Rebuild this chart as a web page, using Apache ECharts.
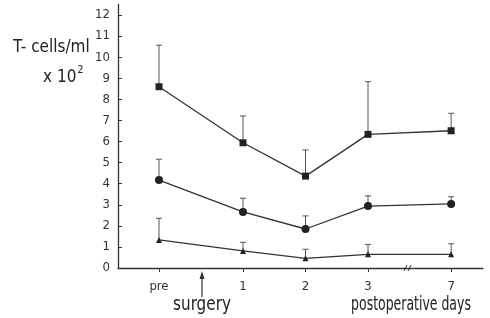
<!DOCTYPE html>
<html>
<head>
<meta charset="utf-8">
<script src="https://cdn.jsdelivr.net/npm/echarts@6/dist/echarts.min.js"></script>
<style>
  html, body { margin: 0; padding: 0; background: #fff; }
  #chart { width: 490px; height: 318px; }
</style>
</head>
<body>
<div id="chart"></div>
<script>
// posizioni sull'asse x (asse interrotto tra 3 e 7)
const xPos = [-0.344, 1, 2, 3, 4.33];
const xLabels = ['pre', '1', '2', '3', '7'];
const yTicks = [0, 1, 2, 3, 4, 5, 6, 7, 8, 9, 10, 11, 12];
const surgeryX = 0.344;
const breakX = 3.64;

// valori medi e limite superiore della barra d'errore
const squareMean = [8.6, 5.94, 4.36, 6.34, 6.51];
const squareUpper = [10.57, 7.21, 5.6, 8.84, 7.34];
const circleMean = [4.17, 2.66, 1.85, 2.94, 3.04];
const circleUpper = [5.16, 3.31, 2.47, 3.42, 3.38];
const triMean = [1.33, 0.81, 0.46, 0.65, 0.65];
const triUpper = [2.36, 1.22, 0.89, 1.12, 1.15];

const FONT = '"DejaVu Sans"';
const INK = '#333';

const pairs = vals => vals.map((v, i) => [xPos[i], v]);

function lineSeries(vals, symbol, size) {
  return {
    type: 'line',
    data: pairs(vals),
    symbol,
    symbolSize: size,
    showAllSymbol: true,
    lineStyle: { color: INK, width: 1.3 },
    itemStyle: { color: '#222' },
    z: 3
  };
}

function errorSeries(means, uppers) {
  return {
    type: 'custom',
    data: means.map((m, i) => [xPos[i], m, uppers[i]]),
    renderItem: (params, api) => {
      const base = api.coord([api.value(0), api.value(1)]);
      const top = api.coord([api.value(0), api.value(2)]);
      const style = { stroke: '#555', lineWidth: 1 };
      return {
        type: 'group',
        children: [
          { type: 'line', shape: { x1: base[0], y1: base[1], x2: top[0], y2: top[1] }, style },
          { type: 'line', shape: { x1: top[0] - 3, y1: top[1], x2: top[0] + 3, y2: top[1] }, style }
        ]
      };
    },
    z: 2
  };
}

// "condensed" finisce nella stringa font del canvas
const labelStyle = {
  color: '#333',
  fontFamily: FONT,
  fontWeight: 'condensed',
  fontSize: 13
};

const chart = echarts.init(document.getElementById('chart'));
chart.setOption({
  animation: false,
  grid: { left: 118, right: 7, top: 4.5, bottom: 50 },
  xAxis: {
    type: 'value',
    min: -1,
    max: 4.84,
    axisLine: { onZero: false, lineStyle: { color: INK, width: 1.3 } },
    axisTick: { customValues: xPos, length: 4, lineStyle: { color: INK } },
    axisLabel: {
      ...labelStyle,
      customValues: xPos,
      formatter: v => xLabels[xPos.indexOf(v)],
      margin: 12
    },
    splitLine: { show: false }
  },
  yAxis: {
    type: 'value',
    min: 0,
    max: 12.5,
    axisLine: { show: true, onZero: false, lineStyle: { color: INK, width: 1.3 } },
    axisTick: { show: true, inside: true, customValues: yTicks, length: 4, lineStyle: { color: INK } },
    axisLabel: { ...labelStyle, customValues: yTicks, margin: 8 },
    splitLine: { show: false }
  },
  series: [
    errorSeries(squareMean, squareUpper),
    errorSeries(circleMean, circleUpper),
    errorSeries(triMean, triUpper),
    lineSeries(squareMean, 'rect', 7),
    lineSeries(circleMean, 'circle', 8),
    lineSeries(triMean, 'triangle', 6)
  ]
});

// decorazioni: freccia dell'intervento, segno di interruzione, testi
const sx = chart.convertToPixel({ xAxisIndex: 0 }, surgeryX);
const bx = chart.convertToPixel({ xAxisIndex: 0 }, breakX);
const y0 = chart.convertToPixel({ yAxisIndex: 0 }, 0);
const big = 'condensed 19px ' + FONT;

chart.setOption({
  graphic: [
    { type: 'line', shape: { x1: sx, y1: y0 + 29, x2: sx, y2: y0 + 6 }, style: { stroke: INK, lineWidth: 1.2 } },
    { type: 'polygon', shape: { points: [[sx, y0 + 3], [sx - 2.5, y0 + 11], [sx + 2.5, y0 + 11]] }, style: { fill: INK } },
    { type: 'line', shape: { x1: bx - 4, y1: y0 + 3, x2: bx - 1, y2: y0 - 3 }, style: { stroke: INK, lineWidth: 1 } },
    { type: 'line', shape: { x1: bx, y1: y0 + 3, x2: bx + 3, y2: y0 - 3 }, style: { stroke: INK, lineWidth: 1 } },
    {
      type: 'text', left: 13, top: 39,
      style: { text: 'T- cells/ml', font: 'condensed 17px ' + FONT, fill: '#222' }
    },
    {
      type: 'text', left: 43, top: 65,
      style: {
        text: '{a|x 10}{b|2}',
        rich: {
          a: { font: 'condensed 17px ' + FONT, fill: '#222', verticalAlign: 'bottom' },
          b: { font: 'condensed 11px ' + FONT, fill: '#222', verticalAlign: 'top', padding: [0, 0, 10, 1] }
        }
      }
    },
    {
      type: 'text', x: sx, y: y0 + 37, scaleX: 0.89,
      style: { text: 'surgery', font: big, fill: '#222', align: 'center', verticalAlign: 'middle' }
    },
    {
      type: 'text', x: 411, y: y0 + 37, scaleX: 0.73,
      style: { text: 'postoperative days', font: big, fill: '#222', align: 'center', verticalAlign: 'middle' }
    }
  ]
});
</script>
</body>
</html>
